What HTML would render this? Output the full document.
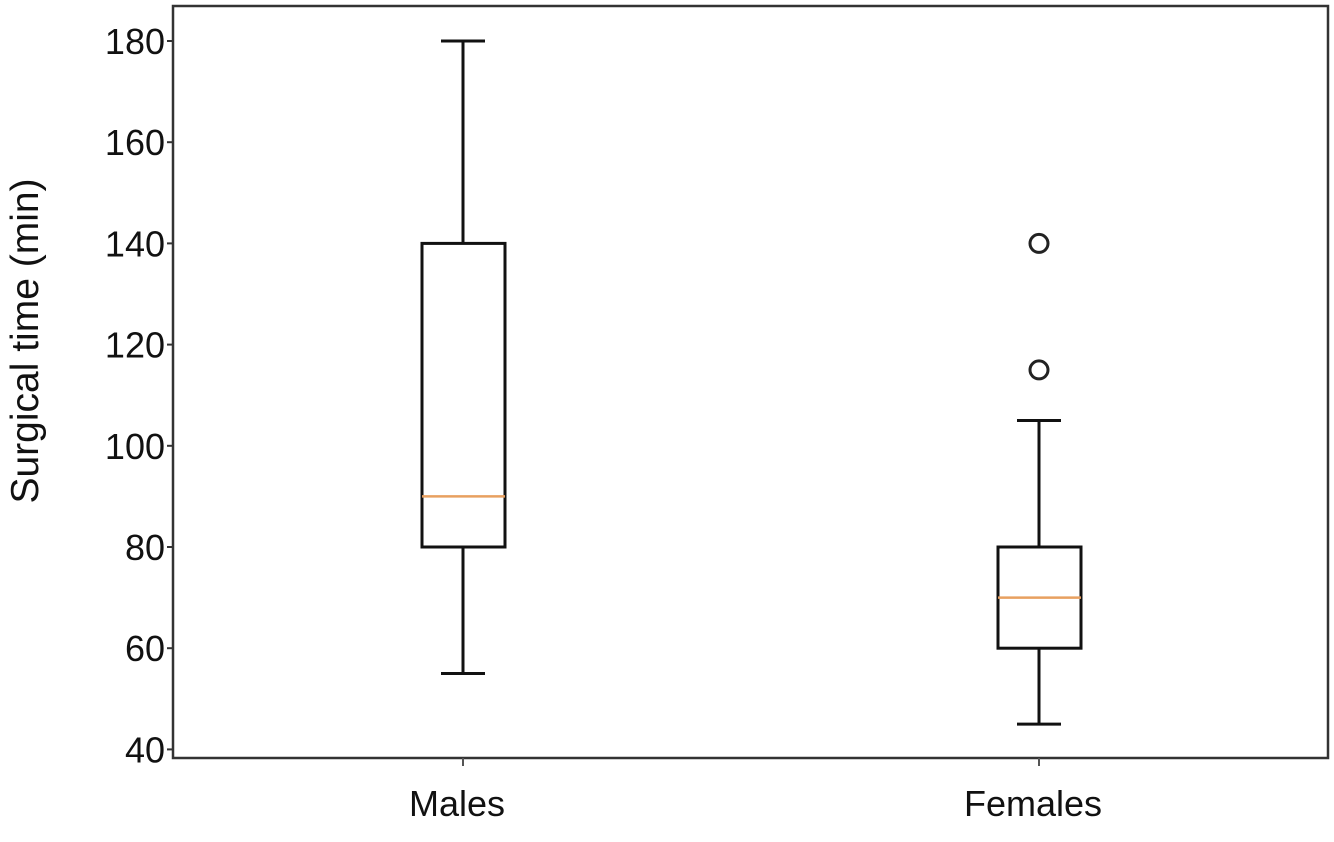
<!DOCTYPE html>
<html><head><meta charset="utf-8"><style>
body{margin:0;background:#fff;}
svg text{font-family:"Liberation Sans",Arial,sans-serif;fill:#111;}
</style></head><body>
<svg width="1334" height="837">
<g id="g"></g>
</svg>
<script>
const categories=["Males","Females"];
const whiskerLow=[55,45];
const q1=[80,60];
const medians=[90,70];
const q3=[140,80];
const whiskerHigh=[180,105];
const outliers=[[],[115,140]];
const yTicks=[40,60,80,100,120,140,160,180];
const L=173,T=6,R=1328,B=758;
const xPos=[463,1039];
const y=v=>41+(180-v)*5.06;
const ns="http://www.w3.org/2000/svg";
const g=document.getElementById('g');
function mk(t,a,parent){const e=document.createElementNS(ns,t);for(const k in a)e.setAttribute(k,a[k]);(parent||g).appendChild(e);return e;}
const frame=mk('rect',{x:L,y:T,width:R-L,height:B-T,fill:'none',stroke:'#333','stroke-width':2.5});


yTicks.forEach(v=>{
 const tk=mk('line',{x1:L-6,x2:L,y1:y(v),y2:y(v),stroke:'#333','stroke-width':2});
 
 
 const t=mk('text',{x:L-8,y:y(v)+13,'text-anchor':'end','font-size':36});
 t.textContent=v;
 
 
});
const yt=mk('text',{x:0,y:0,'text-anchor':'middle','font-size':39,transform:'translate(38,341) rotate(-90)'});
yt.textContent='Surgical time (min)';


categories.forEach((c,i)=>{
 const x=xPos[i];
 const bg=mk('g',{});
 
 
 const s={stroke:'#111','stroke-width':3,fill:'none'};
 mk('line',Object.assign({x1:x,x2:x,y1:y(whiskerHigh[i]),y2:y(q3[i])},s),bg);
 mk('line',Object.assign({x1:x,x2:x,y1:y(q1[i]),y2:y(whiskerLow[i])},s),bg);
 mk('line',Object.assign({x1:x-22,x2:x+22,y1:y(whiskerHigh[i]),y2:y(whiskerHigh[i])},s),bg);
 mk('line',Object.assign({x1:x-22,x2:x+22,y1:y(whiskerLow[i]),y2:y(whiskerLow[i])},s),bg);
 mk('rect',Object.assign({x:x-41,y:y(q3[i]),width:83,height:y(q1[i])-y(q3[i])},s),bg);
 const md=mk('line',{x1:x-41,x2:x+42,y1:y(medians[i]),y2:y(medians[i]),stroke:'#e8a060','stroke-width':2.5},bg);
 
 
 outliers[i].forEach(v=>{
  const o=mk('circle',{cx:x,cy:y(v),r:9,fill:'none',stroke:'#222','stroke-width':3},bg);
  
  
 });
 const tk=mk('line',{x1:x,x2:x,y1:B,y2:B+8,stroke:'#555','stroke-width':2});
 
 
 const t=mk('text',{x:x-6,y:B+58,'text-anchor':'middle','font-size':36});
 t.textContent=c;
 
 
});
</script>
</body></html>
